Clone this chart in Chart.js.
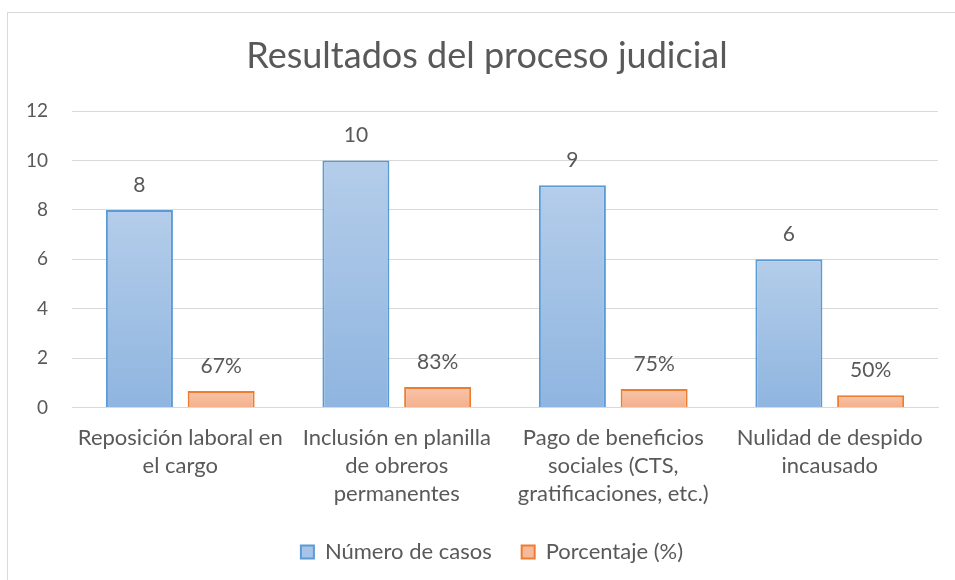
<!DOCTYPE html>
<html><head><meta charset="utf-8">
<script src="https://cdn.jsdelivr.net/npm/chart.js@4/dist/chart.umd.min.js"></script>
<style>html,body{margin:0;padding:0;background:#fff;}#wrap{width:955px;height:580px;position:relative;}</style>
</head><body><div id="wrap"><canvas id="c" width="955" height="580"></canvas></div>
<script>
const categories = [
  ["Reposición laboral en", "el cargo"],
  ["Inclusión en planilla", "de obreros", "permanentes"],
  ["Pago de beneficios", "sociales (CTS,", "gratificaciones, etc.)"],
  ["Nulidad de despido", "incausado"]
];
const numeroCasos = [8, 10, 9, 6];
const porcentaje = [0.67, 0.83, 0.75, 0.50];
const porcentajeLabels = ["67%", "83%", "75%", "50%"];
const seriesNames = ["Número de casos", "Porcentaje (%)"];
const titleText = "Resultados del proceso judicial";
const yTicks = [0, 2, 4, 6, 8, 10, 12];

const GREY = '#595959';
const FONT = 'Lato, "Open Sans", sans-serif';

function grad(ctx, top, bottom, fallback) {
  const chart = ctx.chart;
  if (!chart.chartArea || ctx.parsed === undefined) return fallback;
  const y = chart.scales.y;
  const yTop = y.getPixelForValue(ctx.parsed.y);
  const yBot = y.getPixelForValue(0);
  if (!isFinite(yTop) || yBot - yTop < 1) return fallback;
  const g = chart.ctx.createLinearGradient(0, yTop, 0, yBot);
  g.addColorStop(0, top);
  g.addColorStop(1, bottom);
  return g;
}

const frame = {
  id: 'frame',
  beforeDraw(chart) {
    const c = chart.ctx;
    c.save();
    c.fillStyle = '#fff';
    c.fillRect(0, 0, chart.width, chart.height);
    c.strokeStyle = '#d9d9d9';
    c.lineWidth = 1;
    c.strokeRect(7.5, 12.5, 1000, 1000);
    c.restore();
  }
};

// the original chart frame is wider than the window: re-centre title and legend on it
const shiftBlocks = {
  id: 'shiftBlocks',
  afterLayout(chart) {
    const t = chart.titleBlock;
    if (t) { t.left += 17; t.right += 17; }
    const l = chart.legend;
    if (l) { l.left += 22; l.right += 22; l.top -= 13; l.bottom -= 13; }
  }
};

const valueLabels = {
  id: 'valueLabels',
  afterDatasetsDraw(chart) {
    const c = chart.ctx;
    c.save();
    c.font = '21px ' + FONT;
    c.fillStyle = GREY;
    c.textAlign = 'center';
    c.textBaseline = 'middle';
    chart.data.datasets.forEach((ds, di) => {
      const meta = chart.getDatasetMeta(di);
      meta.data.forEach((el, i) => {
        const txt = di === 0 ? String(numeroCasos[i]) : porcentajeLabels[i];
        c.fillText(txt, el.x, el.y - 25);
      });
    });
    c.restore();
  }
};

new Chart(document.getElementById('c'), {
  type: 'bar',
  data: {
    labels: categories,
    datasets: [
      {
        label: seriesNames[0],
        data: numeroCasos,
        backgroundColor: (ctx) => grad(ctx, '#b4cdea', '#8fb5e0', '#a3c1e6'),
        borderColor: '#5b9bd5',
        borderWidth: 2,
        borderSkipped: 'bottom'
      },
      {
        label: seriesNames[1],
        data: porcentaje,
        backgroundColor: (ctx) => grad(ctx, '#f8c4a9', '#f4b08c', '#f6b99a'),
        borderColor: '#ed7d31',
        borderWidth: 2,
        borderSkipped: 'bottom'
      }
    ]
  },
  options: {
    responsive: false,
    animation: false,
    devicePixelRatio: 1,
    categoryPercentage: 0.755,
    barPercentage: 0.82,
    layout: { padding: { left: 2, right: 17, top: 8, bottom: -6 } },
    plugins: {
      title: {
        display: true,
        text: titleText,
        color: GREY,
        font: { family: FONT, size: 36, weight: 'normal' },
        padding: { top: 27, bottom: 33 }
      },
      legend: {
        position: 'bottom',
        labels: {
          color: GREY,
          font: { family: FONT, size: 22 },
          boxWidth: 13,
          boxHeight: 13,
          padding: 30,
          generateLabels(chart) {
            return [
              { text: seriesNames[0], fillStyle: '#a7c3e7', strokeStyle: '#5b9bd5', lineWidth: 2, datasetIndex: 0, fontColor: GREY },
              { text: seriesNames[1], fillStyle: '#f6b99a', strokeStyle: '#ed7d31', lineWidth: 2, datasetIndex: 1, fontColor: GREY }
            ];
          }
        }
      },
      tooltip: { enabled: false }
    },
    scales: {
      x: {
        grid: { display: false, drawTicks: false },
        border: { display: true, color: '#d9d9d9', width: 1 },
        ticks: { color: GREY, font: { family: FONT, size: 22, lineHeight: 1.28 }, padding: 16, maxRotation: 0, autoSkip: false }
      },
      y: {
        min: 0, max: 12,
        afterBuildTicks(axis) { axis.ticks = yTicks.map(v => ({ value: v })); },
        grid: { color: '#d9d9d9', lineWidth: 1, drawTicks: false },
        border: { display: false },
        ticks: { color: GREY, font: { family: FONT, size: 19 }, padding: 24 }
      }
    }
  },
  plugins: [frame, shiftBlocks, valueLabels]
});
</script></body></html>
